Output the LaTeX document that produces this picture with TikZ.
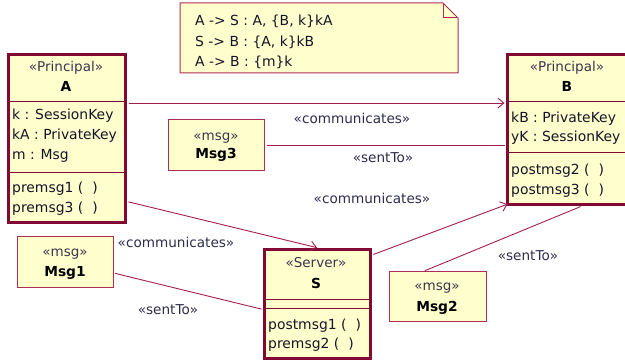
\documentclass[tikz,border=0pt]{standalone}
\usepackage{fontspec}
\setmainfont{DejaVu Sans}
\usetikzlibrary{arrows.meta}
\definecolor{boxfill}{RGB}{255,255,206}
\definecolor{classcol}{RGB}{128,10,52}
\definecolor{msgcol}{RGB}{175,45,85}
\definecolor{linecol}{RGB}{165,30,75}
\definecolor{stereocol}{RGB}{62,50,78}
\definecolor{bodycol}{RGB}{20,20,40}
\definecolor{labelcol}{RGB}{45,45,75}
\tikzset{
  classbox/.style={draw=classcol, line width=3pt, fill=boxfill, inner sep=0pt, anchor=north west},
  msgbox/.style={draw=msgcol, line width=1.4pt, fill=boxfill, inner sep=0pt, anchor=north west},
  divider/.style={draw=classcol, line width=1pt},
  conn/.style={draw=linecol, line width=0.9pt},
  opentip/.style={-{Straight Barb[length=6pt,width=10pt,line width=0.9pt]}},
  stereo/.style={text=stereocol, inner sep=0pt, font=\fontsize{13.5}{16}\selectfont},
  cname/.style={text=black, inner sep=0pt, font=\fontsize{13.8}{16}\selectfont\bfseries},
  member/.style={text=bodycol, inner sep=0pt, anchor=west, font=\fontsize{13.9}{16}\selectfont},
  edgelabel/.style={text=labelcol, inner sep=0pt, font=\fontsize{13.6}{16}\selectfont},
  notetext/.style={text=bodycol, inner sep=0pt, anchor=west, font=\fontsize{13.9}{16}\selectfont}
}
\begin{document}
\begin{tikzpicture}[x=1pt,y=-1pt]
\useasboundingbox (0,0) rectangle (625,361);

% protocol note with folded corner
\draw[draw=msgcol, line width=1pt, fill=boxfill]
  (180,3) -- (443,3) -- (458,18) -- (458,73) -- (180,73) -- cycle;
\draw[draw=msgcol, line width=1pt] (443,3) -- (443,18) -- (458,18);
\node[notetext] (n1) at (195,21) {A -> S : A, \{B, k\}kA};
\node[notetext] (n2) at (195,42) {S -> B : \{A, k\}kB};
\node[notetext] (n3) at (195,62) {A -> B : \{m\}k};

% class A
\node[classbox, minimum width=117pt, minimum height=168pt] (A) at (7,53) {};
\draw[divider] (A.west |- 0,102) -- (A.east |- 0,102);
\draw[divider] (A.west |- 0,173) -- (A.east |- 0,173);
\node[stereo] (Ast) at (66,68) {«Principal»};
\node[cname] (Anm) at (66,86) {A};
\node[member] (Aa1) at (12,116) {k : SessionKey};
\node[member] (Aa2) at (12,136) {kA : PrivateKey};
\node[member] (Aa3) at (12,156) {m : Msg};
\node[member] (Ao1) at (12,189) {premsg1 (\, \,)};
\node[member] (Ao2) at (12,209) {premsg3 (\, \,)};

% class B
\node[classbox, minimum width=121pt, minimum height=150pt] (B) at (506,53) {};
\draw[divider] (B.west |- 0,102) -- (B.east |- 0,102);
\draw[divider] (B.west |- 0,153) -- (B.east |- 0,153);
\node[stereo] (Bst) at (567,68) {«Principal»};
\node[cname] (Bnm) at (567,86) {B};
\node[member] (Ba1) at (511,119) {kB : PrivateKey};
\node[member] (Ba2) at (511,138) {yK : SessionKey};
\node[member] (Bo1) at (511,171) {postmsg2 (\, \,)};
\node[member] (Bo2) at (511,191) {postmsg3 (\, \,)};

% class S
\node[classbox, minimum width=106pt, minimum height=109pt] (S) at (263,248) {};
\draw[divider] (S.west |- 0,299) -- (S.east |- 0,299);
\draw[divider] (S.west |- 0,308) -- (S.east |- 0,308);
\node[stereo] (Sst) at (316,263) {«Server»};
\node[cname] (Snm) at (316,283) {S};
\node[member] (So1) at (268,326) {postmsg1 (\, \,)};
\node[member] (So2) at (268,345) {premsg2 (\, \,)};

% message objects
\node[msgbox, minimum width=96pt, minimum height=51pt] (M3) at (168,119) {};
\node[stereo] (M3st) at (216,138) {«msg»};
\node[cname] (M3nm) at (216,155) {Msg3};
\node[msgbox, minimum width=96pt, minimum height=51pt] (M1) at (17,236) {};
\node[stereo] (M1st) at (65,254) {«msg»};
\node[cname] (M1nm) at (65,273) {Msg1};
\node[msgbox, minimum width=97pt, minimum height=50pt] (M2) at (389,271) {};
\node[stereo] (M2st) at (437,288) {«msg»};
\node[cname] (M2nm) at (437,308) {Msg2};

% connectors
\draw[conn, opentip, shorten <=1.5pt, shorten >=1.5pt]
  ([yshift=-50pt]A.north east) -- ([yshift=-50pt]B.north west);
\draw[conn, shorten <=1.5pt, shorten >=1.5pt] (M3.east) -- (M3.east -| B.west);
\draw[conn, opentip, shorten <=1.5pt, shorten >=1.5pt]
  ([yshift=-63pt]A.east) -- ([xshift=1pt]S.north);
\draw[conn, opentip, shorten <=1.5pt, shorten >=0.5pt]
  ([yshift=-7pt]S.north east) -- ([xshift=2pt,yshift=2pt]B.south west);
\draw[conn, shorten <=0.7pt, shorten >=1.5pt]
  ([yshift=-11pt]M1.east) -- ([yshift=-5.5pt]S.west);
\draw[conn, shorten <=0.7pt, shorten >=1.5pt]
  ([xshift=-14pt]M2.north) -- ([xshift=14pt]B.south);

% connector labels
\node[edgelabel] (l1) at (352,118) {«communicates»};
\node[edgelabel] (l2) at (383,158) {«sentTo»};
\node[edgelabel] (l3) at (372,198) {«communicates»};
\node[edgelabel] (l4) at (176,242) {«communicates»};
\node[edgelabel] (l5) at (168,310) {«sentTo»};
\node[edgelabel] (l6) at (528,256) {«sentTo»};
\end{tikzpicture}
\end{document}
